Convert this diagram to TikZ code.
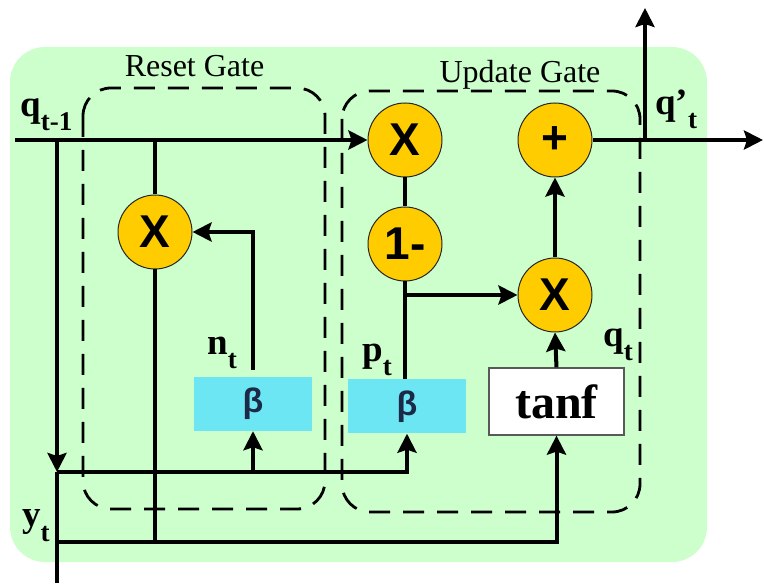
\documentclass[tikz,border=0pt]{standalone}
\usepackage{fontspec}
\setmainfont{Liberation Serif}
\newfontfamily\arialf{Liberation Sans}
\usetikzlibrary{arrows.meta}
\definecolor{bggreen}{HTML}{CCFFCC}
\definecolor{gold}{HTML}{FFCC00}
\definecolor{betacyan}{HTML}{6CE6F2}
\definecolor{betatext}{HTML}{1C2A48}
\newcommand{\mylbl}[2]{{\fontsize{37}{37}\selectfont\bfseries #1}\raisebox{-14pt}{\fontsize{27}{27}\selectfont\bfseries #2}}
\tikzset{
  wire/.style={line width=4pt},
  arr/.style={line width=4pt,-{Stealth[length=19pt,width=19pt,inset=3pt]}},
  gatebox/.style={line width=2.8pt,dash pattern=on 21pt off 13pt,rounded corners=28pt},
  opnode/.style={circle,fill=gold,draw=black!85,line width=1pt,minimum size=74pt,inner sep=0pt,font=\arialf\bfseries\fontsize{46}{46}\selectfont},
  betabox/.style={fill=betacyan,minimum width=118pt,minimum height=54pt,inner sep=0pt,text=betatext,font=\arialf\bfseries\fontsize{34}{34}\selectfont},
  tanbox/.style={fill=white,draw=black!65,line width=1.2pt,minimum width=135pt,minimum height=67pt,inner sep=0pt,font=\bfseries\fontsize{48}{48}\selectfont},
  lbl/.style={inner sep=0pt,anchor=base west},
  gatelbl/.style={inner sep=0pt,anchor=base,font=\fontsize{32}{32}\selectfont}
}
\begin{document}
\begin{tikzpicture}[x=1pt,y=-1pt]
\useasboundingbox (0,0) rectangle (764,585);
% background
\fill[bggreen,rounded corners=35pt] (10,47) rectangle (707,562);
% gate boxes
\draw[gatebox] (83,88) rectangle (325,509);
\draw[gatebox] (342,91) rectangle (640,512);
\node[gatelbl] (rgl) at (194.5,77) {Reset Gate};
\node[gatelbl] (ugl) at (520,83) {Update Gate};
% operators
\node[opnode] (xr) at (155,232) {X};
\node[opnode] (xu) at (405,140) {X};
\node[opnode] (om) at (405,244) {1-};
\node[opnode] (plus) at (555,140) {+};
\node[opnode] (xl) at (555,295) {X};
\node[betabox] (bn) at (253,404) {β};
\node[betabox] (bp) at (407,406.5) {β};
\node[tanbox] (tanf) at (556.5,401.5) {tanf};
% coordinates
\coordinate (qin) at (15,140);
\coordinate (j1) at (57,140);
\coordinate (j2) at (155,140);
\coordinate (ya) at (57,472);
\coordinate (yan) at (253,472);
\coordinate (yb) at (57,542);
\coordinate (ybx) at (155,542);
\coordinate (yout) at (57,583);
\coordinate (br) at (405,295);
\coordinate (qj) at (645,140);
\coordinate (qup) at (645,8);
\coordinate (qout) at (763,140);
% wires
\draw[arr] (qin) -- (xu.west);
\draw[arr] (j1) -- (ya);
\draw[wire] (ya) -- (yout);
\draw[wire] (j2) -- (xr.north);
\draw[wire] (xr.south) -- (ybx);
\draw[arr] (yb) -| (tanf.south);
\draw[arr] (ya) -| (bp.south);
\draw[arr] (yan) -- (bn.south);
\draw[arr] ([yshift=7pt]bn.north) |- (xr.east);
\draw[wire] (xu.south) -- (om.north);
\draw[wire] (om.south) -- (om.south |- bp.north);
\draw[arr] (br) -- (xl.west);
\draw[arr] (tanf.north) -- (xl.south);
\draw[arr] (xl.north) -- (plus.south);
\draw[arr] (plus.east) -- (qout);
\draw[arr] (qj) -- (qup);
% labels
\node[lbl] (lq1) at (20,117) {\mylbl{q}{t-1}};
\node[lbl] (lnt) at (207,355) {\mylbl{n}{t}};
\node[lbl] (lpt) at (362,362) {\mylbl{p}{t}};
\node[lbl] (lqt) at (603,347) {\mylbl{q}{t}};
\node[lbl] (lyt) at (22,527) {\mylbl{y}{t}};
\node[lbl] (lqp) at (655,115) {\mylbl{q’}{t}};
\end{tikzpicture}
\end{document}
